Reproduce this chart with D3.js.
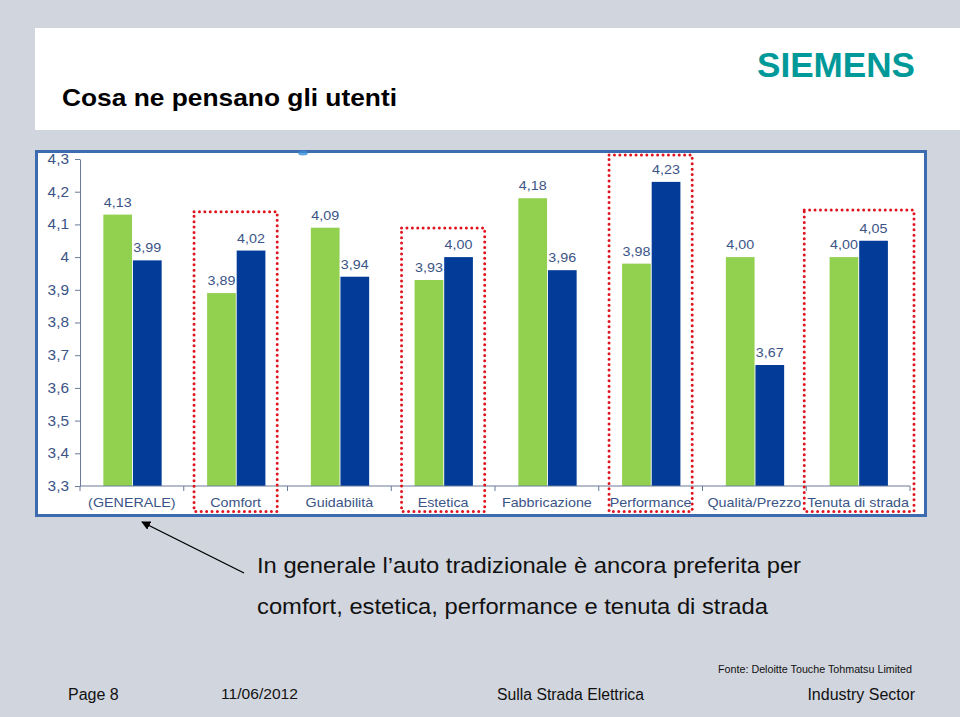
<!DOCTYPE html>
<html>
<head>
<meta charset="utf-8">
<script src="https://cdn.jsdelivr.net/npm/d3@7"></script>
<style>
  html, body { margin: 0; padding: 0; background: #d1d5de; }
  svg { display: block; font-family: "Liberation Sans", Arial, sans-serif; }
</style>
</head>
<body>
<svg id="chart" width="960" height="717"></svg>
<script>
// ---- data ----
const categories = ["(GENERALE)", "Comfort", "Guidabilità", "Estetica", "Fabbricazione", "Performance", "Qualità/Prezzo", "Tenuta di strada"];
const seriesGreen = [4.13, 3.89, 4.09, 3.93, 4.18, 3.98, 4.00, 4.00];
const seriesBlue  = [3.99, 4.02, 3.94, 4.00, 3.96, 4.23, 3.67, 4.05];
const yTicks = [3.3, 3.4, 3.5, 3.6, 3.7, 3.8, 3.9, 4.0, 4.1, 4.2, 4.3];
const yTickLabels = ["3,3", "3,4", "3,5", "3,6", "3,7", "3,8", "3,9", "4", "4,1", "4,2", "4,3"];
const highlightCats = ["Comfort", "Estetica", "Performance", "Tenuta di strada"];
const highlightTops = [4.139, 4.089, 4.312, 4.144];

const svg = d3.select("#chart");
const fmt = v => v.toFixed(2).replace(".", ",");

// horizontally stretch text (the original slide is rendered slightly wide)
function stretch(sel, k) {
  sel.each(function () {
    const w = this.getComputedTextLength();
    d3.select(this).attr("textLength", w * k).attr("lengthAdjust", "spacingAndGlyphs");
  });
  return sel;
}

// ---- header panel ----
svg.append("rect").attr("x", 35).attr("y", 28).attr("width", 925).attr("height", 102).attr("fill", "#ffffff");
svg.append("text").attr("x", 62).attr("y", 106).attr("font-size", 24.5).attr("font-weight", "bold")
  .attr("fill", "#000").attr("textLength", 335).attr("lengthAdjust", "spacingAndGlyphs").text("Cosa ne pensano gli utenti");
svg.append("text").attr("x", 915).attr("y", 77).attr("text-anchor", "end").attr("font-size", 35)
  .attr("font-weight", "bold").attr("fill", "#009999").attr("textLength", 158).attr("lengthAdjust", "spacingAndGlyphs").text("SIEMENS");

// ---- chart panel ----
svg.append("rect").attr("x", 36.5).attr("y", 151.5).attr("width", 889).attr("height", 364)
  .attr("fill", "#ffffff").attr("stroke", "#3d6bb0").attr("stroke-width", 3);
// small decorative bulge on top border
svg.append("ellipse").attr("cx", 303).attr("cy", 153).attr("rx", 5).attr("ry", 2.5).attr("fill", "#3a8fd8").attr("opacity", 0.8);

const x0 = d3.scaleBand().domain(categories).range([80, 910]).paddingInner(0).paddingOuter(0);
const bw = x0.bandwidth();
const x1 = d3.scaleBand().domain(["g", "b"]).range([bw * 0.225, bw * 0.787]).paddingInner(0.03);
const y = d3.scaleLinear().domain([3.3, 4.3]).range([486, 159]);

const g = svg.append("g");

// bars
const groups = g.selectAll("g.cat").data(categories).join("g").attr("class", "cat")
  .attr("transform", d => `translate(${x0(d)},0)`);
groups.append("rect").attr("x", x1("g")).attr("width", x1.bandwidth())
  .attr("y", (d, i) => y(seriesGreen[i])).attr("height", (d, i) => y(3.3) - y(seriesGreen[i]))
  .attr("fill", "#92d050");
groups.append("rect").attr("x", x1("b")).attr("width", x1.bandwidth())
  .attr("y", (d, i) => y(seriesBlue[i])).attr("height", (d, i) => y(3.3) - y(seriesBlue[i]))
  .attr("fill", "#033c98");

// value labels
const labelColor = "#3b5486";
stretch(groups.append("text").attr("x", x1("g") + x1.bandwidth() / 2).attr("y", (d, i) => y(seriesGreen[i]) - 8)
  .attr("text-anchor", "middle").attr("font-size", 13).attr("fill", labelColor).text((d, i) => fmt(seriesGreen[i])), 1.1);
stretch(groups.append("text").attr("x", x1("b") + x1.bandwidth() / 2).attr("y", (d, i) => y(seriesBlue[i]) - 8)
  .attr("text-anchor", "middle").attr("font-size", 13).attr("fill", labelColor).text((d, i) => fmt(seriesBlue[i])), 1.1);

// y axis
const yAxis = d3.axisLeft(y).tickValues(yTicks).tickFormat((d, i) => yTickLabels[i]).tickSize(5).tickSizeOuter(0);
const ya = svg.append("g").attr("transform", "translate(80,0)").call(yAxis);
ya.select(".domain").attr("stroke", "#6a7a98");
ya.selectAll(".tick line").attr("stroke", "#6a7a98");
stretch(ya.selectAll(".tick text").attr("font-size", 14).attr("fill", labelColor)
  .attr("font-family", "Liberation Sans, Arial, sans-serif").attr("x", -11), 1.1);

// x axis
const xa = svg.append("g").attr("transform", "translate(0,486)");
xa.append("line").attr("x1", 80).attr("x2", 910).attr("stroke", "#6a7a98");
const bounds = categories.map(c => x0(c)).concat([910]);
xa.selectAll("line.tk").data(bounds).join("line").attr("class", "tk")
  .attr("x1", d => d).attr("x2", d => d).attr("y1", 0).attr("y2", 5).attr("stroke", "#6a7a98");
stretch(xa.selectAll("text").data(categories).join("text")
  .attr("x", d => x0(d) + bw / 2).attr("y", 21).attr("text-anchor", "middle")
  .attr("font-size", 13.5).attr("fill", labelColor).text(d => d), 1.06);

// highlight dotted boxes
highlightCats.forEach((c, i) => {
  const inset = c === "Tenuta di strada" ? -2 : 10.3;
  const insetR = c === "Tenuta di strada" ? -4 : 10.3;
  const xl = x0(c) + inset, xr = x0(c) + bw - insetR;
  svg.append("rect").attr("x", xl).attr("y", y(highlightTops[i])).attr("width", xr - xl)
    .attr("height", 511.5 - y(highlightTops[i]))
    .attr("fill", "none").attr("stroke", "#e0141e").attr("stroke-width", 3)
    .attr("stroke-linecap", "round").attr("stroke-dasharray", "0 5.4");
});

// ---- annotation ----
svg.append("defs").append("marker").attr("id", "arr").attr("viewBox", "0 0 10 10").attr("refX", 9).attr("refY", 5)
  .attr("markerWidth", 7).attr("markerHeight", 7).attr("orient", "auto")
  .append("path").attr("d", "M0,0 L10,5 L0,10 Z").attr("fill", "#000");
svg.append("line").attr("x1", 244).attr("y1", 573).attr("x2", 142).attr("y2", 522)
  .attr("stroke", "#000").attr("stroke-width", 1.3).attr("marker-end", "url(#arr)");
svg.append("text").attr("x", 257).attr("y", 573).attr("font-size", 22.5).attr("fill", "#111")
  .attr("textLength", 544).attr("lengthAdjust", "spacingAndGlyphs").text("In generale l\u2019auto tradizionale è ancora preferita per");
svg.append("text").attr("x", 257).attr("y", 614).attr("font-size", 22.5).attr("fill", "#111")
  .attr("textLength", 511).attr("lengthAdjust", "spacingAndGlyphs").text("comfort, estetica, performance e tenuta di strada");

// ---- footer ----
svg.append("text").attr("x", 912).attr("y", 673).attr("text-anchor", "end").attr("font-size", 11).attr("fill", "#111")
  .attr("textLength", 194).attr("lengthAdjust", "spacingAndGlyphs").text("Fonte: Deloitte Touche Tohmatsu Limited");
svg.append("text").attr("x", 68).attr("y", 700).attr("font-size", 16).attr("fill", "#111").text("Page 8");
svg.append("text").attr("x", 221).attr("y", 699).attr("font-size", 15).attr("fill", "#111").attr("textLength", 77).attr("lengthAdjust", "spacingAndGlyphs").text("11/06/2012");
svg.append("text").attr("x", 497).attr("y", 700).attr("font-size", 16).attr("fill", "#111").attr("textLength", 147).attr("lengthAdjust", "spacingAndGlyphs").text("Sulla Strada Elettrica");
svg.append("text").attr("x", 915).attr("y", 700).attr("text-anchor", "end").attr("font-size", 16).attr("fill", "#111").text("Industry Sector");
</script>
</body>
</html>
